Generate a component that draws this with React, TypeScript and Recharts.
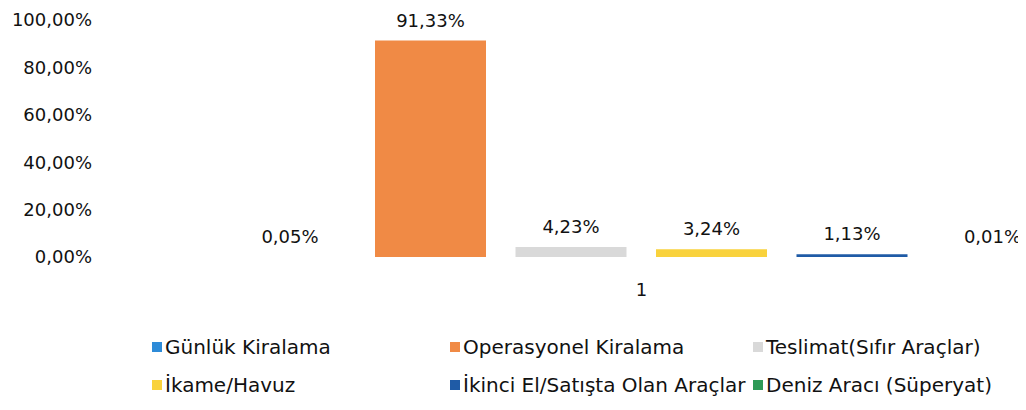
import React from "react";
import { BarChart, Bar, XAxis, YAxis, LabelList } from "recharts";

const categories = ["1"];
const seriesNames = [
  "Günlük Kiralama",
  "Operasyonel Kiralama",
  "Teslimat(Sıfır Araçlar)",
  "İkame/Havuz",
  "İkinci El/Satışta Olan Araçlar",
  "Deniz Aracı (Süperyat)",
];
const seriesValues = [0.05, 91.33, 4.23, 3.24, 1.13, 0.01];
const seriesColors = ["#2D8BD8", "#F08A45", "#D9D9D9", "#F9D23C", "#1F5BA6", "#2E9A57"];
const yTicks = [0, 20, 40, 60, 80, 100];

const keys = seriesNames.map((_, i) => `s${i}`);
const data = categories.map((c) => {
  const row: Record<string, string | number> = { name: c };
  keys.forEach((k, i) => (row[k] = seriesValues[i]));
  return row;
});

const fmt = (v: number) => v.toFixed(2).replace(".", ",") + "%";
const FONT = "'DejaVu Sans', sans-serif";

const legendCols = [144, 442, 745];
const legendRows = [328, 366];

export default function App() {
  return (
    <div style={{ position: "relative", width: 1018, height: 400, overflow: "hidden", fontFamily: FONT }}>
      <BarChart
        width={1100}
        height={300}
        data={data}
        margin={{ top: 12, right: 56.5, bottom: 0, left: 0 }}
        barCategoryGap={0}
        barGap={29.5}
      >
        <XAxis
          dataKey="name"
          axisLine={false}
          tickLine={false}
          tickSize={0}
          tickMargin={26}
          height={51}
          tick={{ fill: "#111", fontSize: 18, fontFamily: FONT }}
        />
        <YAxis
          domain={[0, 100]}
          ticks={yTicks}
          width={223.5}
          axisLine={false}
          tickLine={false}
          tickSize={0}
          tickMargin={139.5}
          tickFormatter={fmt}
          tick={{ fill: "#111", fontSize: 18, fontFamily: FONT }}
        />
        {keys.map((k, i) => (
          <Bar key={k} dataKey={k} fill={seriesColors[i]} barSize={111} isAnimationActive={false}>
            <LabelList
              dataKey={k}
              position="top"
              offset={14}
              formatter={(v: number) => fmt(v)}
              style={{ fill: "#111", fontSize: 18, fontFamily: FONT }}
            />
          </Bar>
        ))}
      </BarChart>
      {seriesNames.map((n, i) => (
        <div
          key={n}
          style={{
            position: "absolute",
            left: legendCols[i % 3],
            top: legendRows[Math.floor(i / 3)],
            display: "flex",
            alignItems: "center",
            fontSize: 20,
            color: "#111",
            whiteSpace: "nowrap",
            lineHeight: "22px",
          }}
        >
          <span style={{ display: "inline-block", width: 10, height: 10, background: seriesColors[i], marginRight: 3 }} />
          {n}
        </div>
      ))}
    </div>
  );
}
